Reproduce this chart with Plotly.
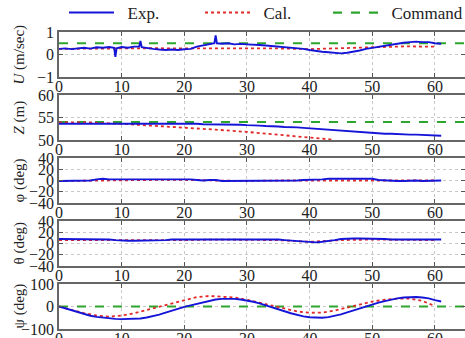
import plotly.graph_objects as go

# ---------------- data ----------------
t = list(range(0, 62))

u_t = [0, 1, 2, 3, 4, 5, 6, 7, 8, 8.8, 9, 9.2, 10, 11, 12, 12.8, 13, 13.2,
       14, 15, 16, 17, 18, 19, 20, 21, 22, 23, 24, 24.8, 25, 25.2,
       26, 27, 28, 29, 30, 31, 32, 33, 34, 35, 36, 37, 38, 39, 40, 41, 42, 43,
       44, 45, 46, 47, 48, 49, 50, 51, 52, 53, 54, 55, 56, 57, 58, 59, 60, 61]
u_exp = [0.25, 0.27, 0.24, 0.28, 0.30, 0.26, 0.32, 0.30, 0.33, 0.30, -0.10, 0.28,
         0.33, 0.30, 0.35, 0.35, 0.60, 0.33,
         0.28, 0.25, 0.22, 0.20, 0.22, 0.20, 0.23, 0.25, 0.35, 0.40, 0.45, 0.50, 0.85, 0.50,
         0.48, 0.50, 0.45, 0.47, 0.45, 0.45, 0.42, 0.40, 0.38, 0.35, 0.33, 0.30, 0.27, 0.25,
         0.20, 0.15, 0.12, 0.10, 0.08, 0.05, 0.08, 0.12, 0.18, 0.25, 0.30, 0.35, 0.40, 0.45,
         0.50, 0.52, 0.55, 0.57, 0.55, 0.55, 0.50, 0.48]
cal_t5 = [0, 5, 10, 15, 20, 25, 30, 35, 40, 45, 50, 55, 60]
u_cal = [0.25, 0.27, 0.28, 0.28, 0.27, 0.27, 0.28, 0.27, 0.24, 0.27, 0.32, 0.36, 0.35]
cmd_t = [0, 65]
u_cmd = [0.5, 0.5]

z_exp = [53.6, 53.6, 53.6, 53.7, 53.7, 53.7, 53.7, 53.7, 53.7, 53.7,
         53.7, 53.7, 53.7, 53.7, 53.6, 53.6, 53.6, 53.6, 53.6, 53.6,
         53.6, 53.6, 53.6, 53.5, 53.5, 53.5, 53.5, 53.4, 53.4, 53.4,
         53.3, 53.3, 53.2, 53.1, 53.1, 53.0, 52.9, 52.9, 52.8, 52.7,
         52.6, 52.5, 52.4, 52.3, 52.2, 52.0, 51.9, 51.8, 51.7, 51.6,
         51.5, 51.5, 51.4, 51.4, 51.3, 51.3, 51.2, 51.2, 51.1, 51.1,
         51.0, 50.95]
z_cal_t = [0, 5, 10, 15, 20, 25, 30, 35, 40, 43.5]
z_cal = [53.9, 53.9, 53.6, 53.2, 52.8, 52.3, 51.8, 51.2, 50.6, 50.1]
z_cmd = [54.0, 54.0]

phi_exp = [-1, -1, 0, 0, -1, 0, 2, 3, 2, 2,
           3, 3, 2, 2, 3, 3, 2, 2, 2, 2,
           2, 2, 1, 0, 1, 1, -1, -1, 0, 0,
           0, 0, -1, -1, 0, 0, -1, -1, 0, 1,
           1, 2, 2, 3, 3, 3, 3, 3, 3, 3,
           3, 1, 0, -1, -1, -1, 0, 0, -1, -1,
           0, 0]
phi_cal = [-1, 0, 1, 1, 1, 0, -1, 0, 0, 1, 1, 0, 0]

theta_exp = [8, 8, 8, 8, 8, 8, 8, 8, 7, 6,
             5, 5, 5, 5, 5, 5, 6, 6, 7, 7,
             8, 8, 8, 8, 8, 8, 8, 7, 7, 7,
             7, 7, 7, 7, 7, 7, 6, 5, 4, 3,
             2, 2, 3, 4, 6, 8, 9, 9, 9, 9,
             9, 8, 8, 7, 7, 7, 7, 7, 7, 7,
             7, 7]
theta_cal = [6, 6, 6, 5, 6, 7, 6, 6, 3, 6, 7, 6, 6]

psi_exp = [0, -8, -17, -26, -34, -41, -46, -50, -53, -55,
           -56, -56, -55, -53, -49, -43, -36, -27, -18, -9,
           -2, 5, 12, 19, 26, 31, 34, 35, 34, 31,
           27, 21, 14, 6, -3, -12, -21, -30, -38, -44,
           -48, -50, -50, -47, -42, -35, -26, -17, -8, 1,
           9, 17, 24, 31, 36, 40, 42, 42, 40, 36,
           28, 22]
psi_cal_t = list(range(0, 61, 2))
psi_cal = [0, -15, -30, -40, -45, -40, -30, -15, 0, 15,
           30, 42, 47, 45, 40, 30, 17, 3, -10, -22,
           -28, -27, -18, -5, 10, 22, 30, 35, 35, 25,
           2]
psi_cmd = [0, 0]

legend_names = ["Exp.", "Cal.", "Command"]
y_titles = ["<i>U</i> (m/sec)", "<i>Z</i> (m)", "φ (deg)", "θ (deg)", "ψ (deg)"]
y_ranges = [[-1, 1], [50, 60], [-40, 40], [-40, 40], [-100, 100]]
y_ticks = [[-1, 0, 1], [50, 55, 60], [-40, -20, 0, 20, 40], [-40, -20, 0, 20, 40], [-100, 0, 100]]
x_ticks = [0, 10, 20, 30, 40, 50, 60]

# ---------------- styling ----------------
W, H = 465, 338
ML = 59
PW = W - ML
BLUE = "#1515d8"
RED = "#e02a2a"
GREEN = "#2ea52e"
FONT = "Liberation Serif"
panels_px = [(32, 77), (95, 140), (158, 203), (221, 266), (284, 329)]
legend_px = [64, 200, 328]

fig = go.Figure()

series = [
    (u_t, u_exp, cal_t5, u_cal, u_cmd),
    (t, z_exp, z_cal_t, z_cal, z_cmd),
    (t, phi_exp, cal_t5, phi_cal, None),
    (t, theta_exp, cal_t5, theta_cal, None),
    (t, psi_exp, psi_cal_t, psi_cal, psi_cmd),
]

for i, (te, ye, tc, yc, ycmd) in enumerate(series):
    xa = "x" if i == 0 else f"x{i+1}"
    ya = "y" if i == 0 else f"y{i+1}"
    if ycmd is not None:
        fig.add_trace(go.Scatter(x=cmd_t, y=ycmd, mode="lines", xaxis=xa, yaxis=ya,
                                 line=dict(color=GREEN, width=2.2, dash="dash"),
                                 name="Command", showlegend=False))
    fig.add_trace(go.Scatter(x=tc, y=yc, mode="lines", xaxis=xa, yaxis=ya,
                             line=dict(color=RED, width=1.8, dash="dot"),
                             name="Cal.", showlegend=False))
    fig.add_trace(go.Scatter(x=te, y=ye, mode="lines", xaxis=xa, yaxis=ya,
                             line=dict(color=BLUE, width=1.9),
                             name="Exp.", showlegend=False))

# legend-only traces, one legend each
leg_styles = [dict(color=BLUE, width=2), dict(color=RED, width=2, dash="dot"),
              dict(color=GREEN, width=2.2, dash="dash")]
leg_ids = ["legend", "legend2", "legend3"]
for name, st, lid in zip(legend_names, leg_styles, leg_ids):
    fig.add_trace(go.Scatter(x=[None], y=[None], mode="lines", name="\u2002" + name,
                             line=st, legend=lid))

layout = dict(
    width=W, height=H,
    margin=dict(l=ML, r=0, t=0, b=0, autoexpand=False),
    paper_bgcolor="white", plot_bgcolor="white",
    font=dict(family=FONT, size=16, color="#222"),
    showlegend=True,
)
for lid, px in zip(leg_ids, legend_px):
    layout[lid] = dict(x=(px - ML) / PW, y=1 - 13 / H, xanchor="left", yanchor="middle",
                       orientation="h", itemwidth=45,
                       font=dict(family=FONT, size=17, color="#222"),
                       bgcolor="rgba(0,0,0,0)", borderwidth=0)

annotations = []
for i, (top, bot) in enumerate(panels_px):
    dom = [1 - bot / H, 1 - top / H]
    xk = "xaxis" if i == 0 else f"xaxis{i+1}"
    yk = "yaxis" if i == 0 else f"yaxis{i+1}"
    ya = "y" if i == 0 else f"y{i+1}"
    layout[xk] = dict(domain=[0, 1], range=[0, 64.8], anchor=ya,
                      tickvals=x_ticks, ticks="inside", ticklen=4, tickwidth=1.2,
                      tickcolor="#555", showline=True, linecolor="#666", linewidth=1.5,
                      mirror="ticks", showgrid=True, gridcolor="#c8c8c8", griddash="dot",
                      gridwidth=1, zeroline=False, automargin=False,
                      ticklabelstandoff=-6,
                      tickfont=dict(family=FONT, size=16, color="#222"))
    xref = "x" if i == 0 else f"x{i+1}"
    layout[yk] = dict(domain=dom, range=y_ranges[i], anchor=xref,
                      tickvals=y_ticks[i], ticks="inside", ticklen=4, tickwidth=1.2,
                      tickcolor="#555", showline=True, linecolor="#666", linewidth=1.5,
                      mirror="ticks", showgrid=True, gridcolor="#c8c8c8", griddash="dot",
                      gridwidth=1, zeroline=False, automargin=False,
                      tickfont=dict(family=FONT, size=16, color="#222"))
    annotations.append(dict(text=y_titles[i], xref="paper", yref="paper",
                            x=(19 - ML) / PW, y=(dom[0] + dom[1]) / 2,
                            xanchor="center", yanchor="middle", textangle=-90,
                            showarrow=False, font=dict(family=FONT, size=15, color="#222")))

layout["annotations"] = annotations
fig.update_layout(**layout)
fig.write_html("out.html", config={"displayModeBar": False},
               post_script="document.body.style.margin='0';"
                           "document.body.style.overflow='hidden';")
